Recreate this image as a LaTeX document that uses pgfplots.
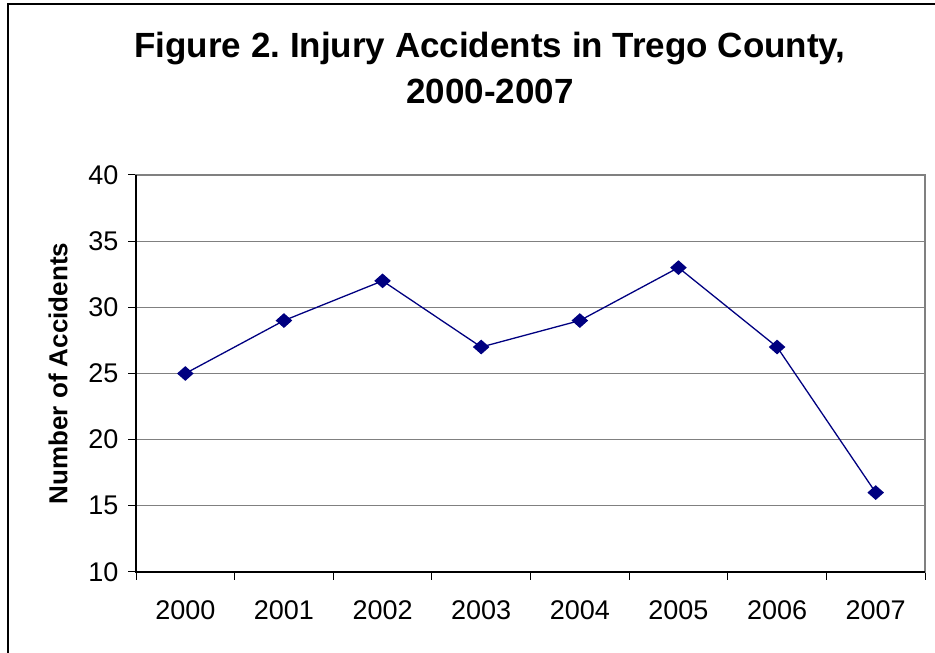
\documentclass[border=0pt]{standalone}
\usepackage{fontspec}
\setmainfont{Liberation Sans}
\usepackage{pgfplots}
\pgfplotsset{compat=1.18}
\definecolor{navyline}{RGB}{0,0,128}
\definecolor{gridgray}{RGB}{128,128,128}
\frenchspacing
\begin{document}
\begin{tikzpicture}[x=1bp,y=1bp]
\useasboundingbox (0,0) rectangle (935,653);
\draw[black, line width=1.2bp] (8,0) -- (8,649) -- (935,649);
\node[font=\fontsize{35bp}{46bp}\selectfont\bfseries, align=center] at (490,585) {Figure 2. Injury Accidents in Trego County,\\2000-2007};
\begin{axis}[
  at={(136bp,81bp)}, anchor=south west,
  scale only axis, width=789bp, height=397bp,
  xmin=-0.5, xmax=7.5, ymin=10, ymax=40,
  ytick={10,15,...,40},
  xtick={-0.5,0.5,...,7.5},
  xticklabels={2000,2001,2002,2003,2004,2005,2006,2007,{}},
  xticklabel style={xshift=49.3bp, yshift=-17bp},
  yticklabel style={xshift=-6bp},
  xtick pos=bottom, ytick pos=left,
  tick align=outside,
  major tick length=8bp,
  tick style={black, line width=1bp},
  /pgf/number format/assume math mode=true,
  ymajorgrids,
  grid style={gridgray, line width=1.3bp},
  axis line style={gridgray, line width=1.3bp},
  tick label style={font=\fontsize{27bp}{30bp}\selectfont},
  ylabel={\bfseries Number of Accidents},
  ylabel style={font=\fontsize{26bp}{30bp}\selectfont, at={(axis description cs:-0.0989,0.5)}, anchor=center},
  clip=false,
]
\draw[black, line width=1.2bp] (rel axis cs:0,1) -- (rel axis cs:0,0) -- (rel axis cs:1,0);
\addplot[navyline, line width=1.3bp, mark=diamond*, mark size=6.5bp, mark options={fill=navyline, draw=navyline, xscale=1.5}]
  coordinates {(0,25) (1,29) (2,32) (3,27) (4,29) (5,33) (6,27) (7,16)};
\end{axis}
\end{tikzpicture}
\end{document}
